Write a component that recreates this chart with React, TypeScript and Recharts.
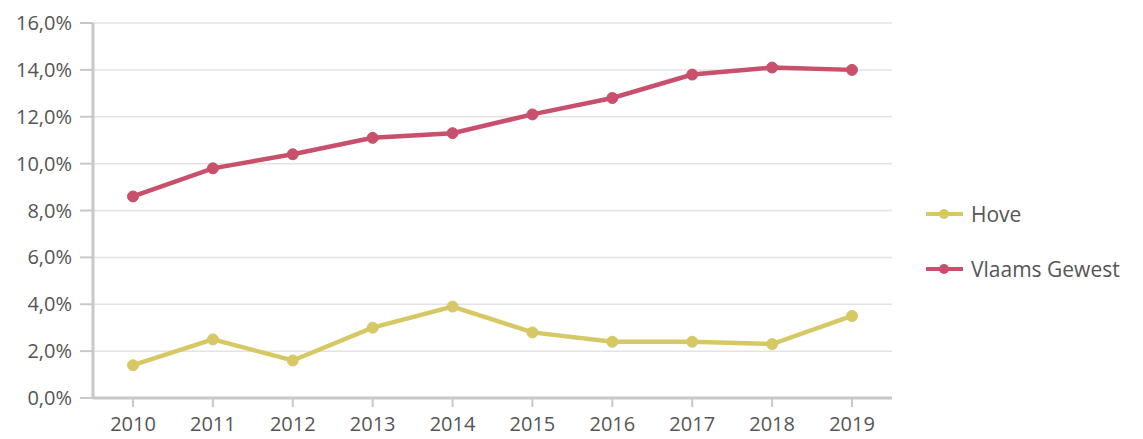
import React from "react";
import { LineChart, Line, XAxis, YAxis, CartesianGrid, Legend } from "recharts";

const years = ["2010", "2011", "2012", "2013", "2014", "2015", "2016", "2017", "2018", "2019"];
const hove = [1.4, 2.5, 1.6, 3.0, 3.9, 2.8, 2.4, 2.4, 2.3, 3.5];
const vlaams = [8.6, 9.8, 10.4, 11.1, 11.3, 12.1, 12.8, 13.8, 14.1, 14.0];
const yTicks = [0, 2, 4, 6, 8, 10, 12, 14, 16];

const HOVE_COLOR = "#d6c865";
const VL_COLOR = "#c9506c";
const FONT = "'Open Sans', sans-serif";

const data = years.map((y, i) => ({ year: y, Hove: hove[i], "Vlaams Gewest": vlaams[i] }));

const fmt = (v: number) => v.toFixed(1).replace(".", ",") + "%";

const LegendContent = () => {
  const items = [
    { name: "Hove", color: HOVE_COLOR },
    { name: "Vlaams Gewest", color: VL_COLOR },
  ];
  return (
    <div style={{ fontFamily: FONT }}>
      {items.map((it) => (
        <div key={it.name} style={{ display: "flex", alignItems: "center", height: 55 }}>
          <svg width={40} height={14} style={{ marginRight: 6 }}>
            <line x1={1} y1={7} x2={38} y2={7} stroke={it.color} strokeWidth={4} />
            <circle cx={19} cy={7} r={5} fill={it.color} />
          </svg>
          <span style={{ fontSize: 21, color: "#555" }}>{it.name}</span>
        </div>
      ))}
    </div>
  );
};

export default function App() {
  return (
    <div style={{ position: "absolute", left: 0, top: 0, background: "#fff" }}>
      <LineChart width={1143} height={439} data={data} margin={{ top: 23, right: 36, bottom: 9, left: 0 }}>
        <CartesianGrid vertical={false} stroke="#e3e3e3" strokeWidth={1.5} />
        <XAxis
          dataKey="year"
          padding={{ left: 40, right: 40 }}
          axisLine={{ stroke: "#c8c8c8", strokeWidth: 3 }}
          tickLine={{ stroke: "#c8c8c8", strokeWidth: 2 }}
          tickSize={9}
          tickMargin={10}
          tick={{ fill: "#555", fontSize: 20, fontFamily: FONT }}
          height={32}
          interval={0}
        />
        <YAxis
          domain={[0, 16]}
          ticks={yTicks}
          tickFormatter={fmt}
          axisLine={{ stroke: "#c8c8c8", strokeWidth: 3 }}
          tickLine={{ stroke: "#c8c8c8", strokeWidth: 2 }}
          tickSize={13}
          tickMargin={8}
          tick={{ fill: "#555", fontSize: 20, fontFamily: FONT }}
          width={93}
          interval={0}
        />
        <Legend
          layout="horizontal"
          verticalAlign="middle"
          align="right"
          content={<LegendContent />}
          wrapperStyle={{ left: 925, top: 186, width: 215 }}
        />
        <Line
          dataKey="Hove"
          stroke={HOVE_COLOR}
          strokeWidth={4.5}
          dot={{ r: 5.5, fill: HOVE_COLOR, stroke: HOVE_COLOR, strokeWidth: 1 }}
          isAnimationActive={false}
        />
        <Line
          dataKey="Vlaams Gewest"
          stroke={VL_COLOR}
          strokeWidth={4.5}
          dot={{ r: 5.5, fill: VL_COLOR, stroke: VL_COLOR, strokeWidth: 1 }}
          isAnimationActive={false}
        />
      </LineChart>
    </div>
  );
}
